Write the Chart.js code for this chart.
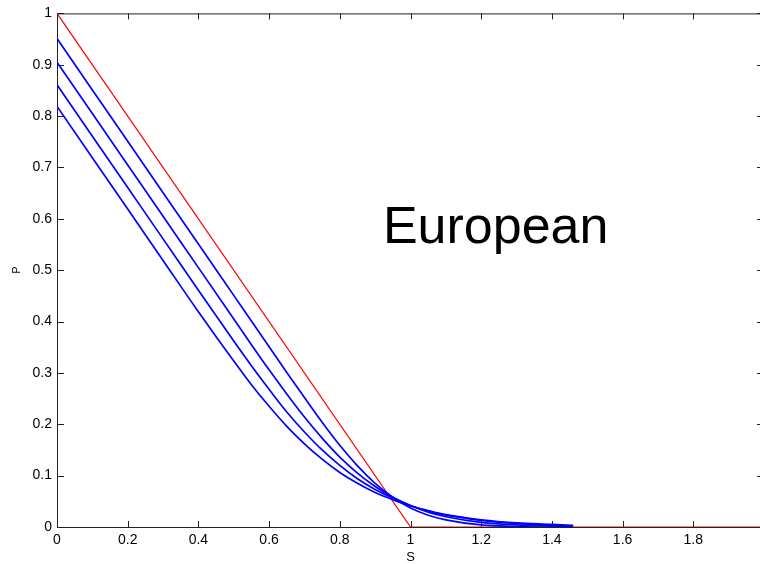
<!DOCTYPE html>
<html>
<head>
<meta charset="utf-8">
<script src="https://cdn.jsdelivr.net/npm/chart.js@4.4.0/dist/chart.umd.min.js"></script>
<style>
  html, body { margin: 0; padding: 0; background: #fff; overflow: hidden; width: 760px; height: 564px; }
  canvas { position: absolute; left: 0; top: 0; }
</style>
</head>
<body>
<canvas id="putchart" width="780" height="564"></canvas>
<script>
// asset price S (x axis)
const sValues = [0, 0.1, 0.2, 0.3, 0.4, 0.5, 0.55, 0.6, 0.65, 0.7, 0.75, 0.8, 0.85, 0.9, 0.95, 1.0, 1.05, 1.1, 1.2, 1.3, 1.4, 1.46];
// option value P, one curve per time to expiry
const putT1 = [0.951, 0.851, 0.751, 0.651, 0.551, 0.451, 0.401, 0.351, 0.301, 0.252, 0.204, 0.159, 0.119, 0.085, 0.058, 0.037, 0.023, 0.014, 0.004, 0.001, 0.000, 0.000];
const putT2 = [0.905, 0.805, 0.705, 0.605, 0.505, 0.405, 0.355, 0.306, 0.259, 0.214, 0.173, 0.136, 0.105, 0.079, 0.058, 0.042, 0.029, 0.020, 0.009, 0.004, 0.002, 0.001];
const putT3 = [0.861, 0.761, 0.661, 0.561, 0.461, 0.362, 0.314, 0.268, 0.224, 0.185, 0.150, 0.120, 0.094, 0.073, 0.056, 0.042, 0.031, 0.023, 0.013, 0.007, 0.003, 0.002];
const putT4 = [0.819, 0.719, 0.619, 0.519, 0.419, 0.323, 0.277, 0.235, 0.196, 0.162, 0.132, 0.106, 0.085, 0.067, 0.053, 0.041, 0.032, 0.024, 0.014, 0.008, 0.005, 0.003];
// payoff (red)
const payoffS = [0, 1, 2];
const payoffP = [1, 0, 0];
// tick labels
const xTicks = [0, 0.2, 0.4, 0.6, 0.8, 1, 1.2, 1.4, 1.6, 1.8, 2];
const yTicks = [0, 0.1, 0.2, 0.3, 0.4, 0.5, 0.6, 0.7, 0.8, 0.9, 1];

function pts(xs, ys) { return xs.map((x, i) => ({x: x, y: ys[i]})); }

const tickFont = {family: "'Liberation Sans', Arial, sans-serif", size: 14};

// box round the plot with ticks pointing inwards, matlab style
const boxPlugin = {
    id: 'box',
    beforeDatasetsDraw(chart) {
        const {ctx, chartArea: a, scales: {x, y}} = chart;
        ctx.save();
        ctx.strokeStyle = '#222';
        ctx.lineWidth = 1;
        ctx.strokeRect(a.left + 0.5, a.top + 0.5, a.right - a.left, a.bottom - a.top);
        ctx.beginPath();
        xTicks.forEach(v => {
            const px = Math.round(x.getPixelForValue(v)) + 0.5;
            ctx.moveTo(px, a.bottom); ctx.lineTo(px, a.bottom - 6);
            ctx.moveTo(px, a.top); ctx.lineTo(px, a.top + 6);
        });
        yTicks.forEach(v => {
            const py = Math.round(y.getPixelForValue(v)) + 0.5;
            ctx.moveTo(a.left, py); ctx.lineTo(a.left + 7, py);
            ctx.moveTo(a.right, py); ctx.lineTo(a.right - 7, py);
        });
        ctx.stroke();
        ctx.restore();
    },
    afterDatasetsDraw(chart) {
        const {ctx, scales: {x, y}} = chart;
        ctx.save();
        ctx.fillStyle = '#000';
        ctx.font = "52px 'Liberation Sans', Arial, sans-serif";
        ctx.textBaseline = 'alphabetic';
        ctx.fillText('European', x.getPixelForValue(0.922), y.getPixelForValue(0.552));
        ctx.restore();
    }
};

const blue = {borderColor: '#0000ff', borderWidth: 1.7, pointRadius: 0, fill: false, cubicInterpolationMode: 'monotone'};

new Chart(document.getElementById('putchart').getContext('2d'), {
    type: 'line',
    data: {
        datasets: [
            Object.assign({data: pts(sValues, putT1)}, blue),
            Object.assign({data: pts(sValues, putT2)}, blue),
            Object.assign({data: pts(sValues, putT3)}, blue),
            Object.assign({data: pts(sValues, putT4)}, blue),
            {data: pts(payoffS, payoffP), borderColor: '#ff0000', borderWidth: 1.2, pointRadius: 0, fill: false, tension: 0}
        ]
    },
    options: {
        responsive: false,
        animation: false,
        layout: {padding: {top: 10, right: 16, left: 0, bottom: 0}},
        plugins: {legend: {display: false}, tooltip: {enabled: false}},
        scales: {
            x: {
                type: 'linear', min: 0, max: 2,
                afterBuildTicks: s => { s.ticks = xTicks.map(v => ({value: v})); },
                afterFit: s => { s.height = 37; },
                grid: {display: false, drawTicks: false},
                border: {display: false},
                ticks: {color: '#000', font: tickFont, padding: 5, maxRotation: 0, autoSkip: false,
                        callback: v => String(v)},
                title: {display: true, text: 'S', color: '#000', font: {family: tickFont.family, size: 13}, padding: {top: 0, bottom: -1}}
            },
            y: {
                type: 'linear', min: 0, max: 1,
                afterBuildTicks: s => { s.ticks = yTicks.map(v => ({value: v})); },
                afterFit: s => { s.width = 57; },
                grid: {display: false, drawTicks: false},
                border: {display: false},
                ticks: {color: '#000', font: tickFont, padding: 5, autoSkip: false,
                        callback: v => String(v)},
                title: {display: true, text: 'P', color: '#000', font: {family: tickFont.family, size: 11}, padding: {top: 10, bottom: 0}}
            }
        }
    },
    plugins: [boxPlugin]
});
</script>
</body>
</html>
